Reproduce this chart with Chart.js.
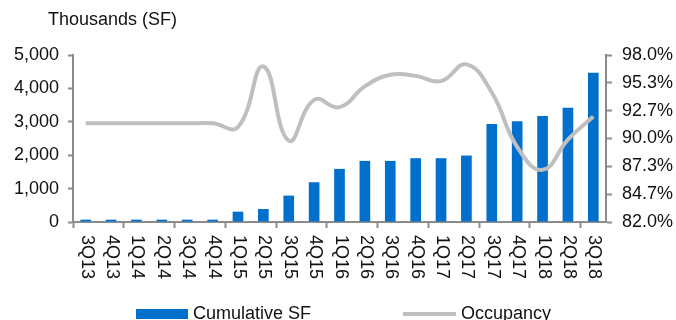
<!DOCTYPE html>
<html>
<head>
<meta charset="utf-8">
<script src="https://cdn.jsdelivr.net/npm/chart.js@4.4.1/dist/chart.umd.min.js"></script>
<style>
  html, body { margin: 0; padding: 0; background: #fff; }
  #wrap { width: 676px; height: 320px; position: relative; }
</style>
</head>
<body>
<div id="wrap"><canvas id="chart" width="676" height="320"></canvas></div>
<script>
// --- DATA ---
const quarters = ['3Q13','4Q13','1Q14','2Q14','3Q14','4Q14','1Q15','2Q15','3Q15','4Q15','1Q16',
                  '2Q16','3Q16','4Q16','1Q17','2Q17','3Q17','4Q17','1Q18','2Q18','3Q18'];
const cumulativeSF = [70, 70, 70, 70, 70, 70, 310, 390, 790, 1190, 1590,
                      1830, 1830, 1910, 1910, 1990, 2935, 3015, 3175, 3420, 4470];
const occupancy = [91.45, 91.45, 91.45, 91.45, 91.45, 91.45, 91.1, 96.9, 89.8, 93.7, 93.0,
                   95.0, 96.1, 96.0, 95.5, 97.1, 94.4, 89.2, 87.0, 89.9, 92.1];
const occTickValues = [82, 84.667, 87.333, 90, 92.667, 95.333, 98];
const occTickLabels = ['82.0%', '84.7%', '87.3%', '90.0%', '92.7%', '95.3%', '98.0%'];
const sfTickValues = [0, 1000, 2000, 3000, 4000, 5000];

const FONT = '"Liberation Sans", Arial, sans-serif';
const BLUE = '#0070cc';
const GREY_LINE = '#bfbfbf';
const AXIS = '#8c8c8c';

Chart.defaults.font.family = FONT;
Chart.defaults.font.size = 18;
Chart.defaults.color = '#111';

// custom text: title, rotated quarter labels, legend
const extras = {
  id: 'extras',
  afterDraw(chart) {
    const ctx = chart.ctx;
    const x = chart.scales.x;
    ctx.save();
    ctx.fillStyle = '#111';
    ctx.font = '18px ' + FONT;
    ctx.textBaseline = 'middle';
    ctx.textAlign = 'left';
    ctx.fillText('Thousands (SF)', 48, 20);

    // quarter labels, reading top to bottom
    quarters.forEach((q, i) => {
      const px = x.getPixelForValue(i);
      ctx.save();
      ctx.translate(px + 1, chart.chartArea.bottom + 13);
      ctx.rotate(Math.PI / 2);
      ctx.fillText(q, 0, 0);
      ctx.restore();
    });

    // legend
    ctx.fillStyle = BLUE;
    ctx.fillRect(136, 309, 52, 10);
    ctx.fillStyle = '#111';
    ctx.fillText('Cumulative SF', 193, 314);
    ctx.strokeStyle = GREY_LINE;
    ctx.lineWidth = 4;
    ctx.beginPath();
    ctx.moveTo(403, 314);
    ctx.lineTo(456, 314);
    ctx.stroke();
    ctx.fillText('Occupancy', 461, 314);
    ctx.restore();
  }
};

new Chart(document.getElementById('chart'), {
  data: {
    labels: quarters,
    datasets: [
      {
        type: 'line',
        label: 'Occupancy',
        data: occupancy,
        yAxisID: 'y1',
        borderColor: GREY_LINE,
        borderWidth: 4,
        pointRadius: 0,
        tension: 0.45,
        order: 0
      },
      {
        type: 'bar',
        label: 'Cumulative SF',
        data: cumulativeSF,
        yAxisID: 'y',
        backgroundColor: BLUE,
        barPercentage: 0.84,
        categoryPercentage: 0.5,
        order: 1
      }
    ]
  },
  options: {
    responsive: false,
    animation: false,
    layout: { padding: { top: 55, left: 0, right: 0, bottom: 0 } },
    plugins: {
      legend: { display: false },
      tooltip: { enabled: false }
    },
    scales: {
      x: {
        type: 'category',
        offset: true,
        ticks: { display: false },
        grid: {
          offset: true,
          drawOnChartArea: false,
          tickLength: 6,
          tickWidth: 2,
          tickColor: c => (c.index % 2 === 0 ? AXIS : 'rgba(0,0,0,0)')
        },
        border: { color: AXIS, width: 2 },
        afterFit(s) { s.height = 98; }
      },
      y: {
        position: 'left',
        min: 0,
        max: 5000,
        afterBuildTicks(s) { s.ticks = sfTickValues.map(v => ({ value: v })); },
        ticks: {
          padding: 9,
          callback: v => v.toLocaleString('en-US')
        },
        grid: { drawOnChartArea: false, tickLength: 5, tickWidth: 2, tickColor: AXIS },
        border: { color: AXIS, width: 2 },
        afterFit(s) { s.width = 73; }
      },
      y1: {
        position: 'right',
        min: 82,
        max: 98,
        afterBuildTicks(s) { s.ticks = occTickValues.map(v => ({ value: v })); },
        ticks: {
          padding: 10,
          callback: (v, i) => occTickLabels[i]
        },
        grid: { drawOnChartArea: false, tickLength: 6, tickWidth: 2, tickColor: AXIS },
        border: { color: AXIS, width: 2 },
        afterFit(s) { s.width = 70; }
      }
    }
  },
  plugins: [extras]
});
</script>
</body>
</html>
